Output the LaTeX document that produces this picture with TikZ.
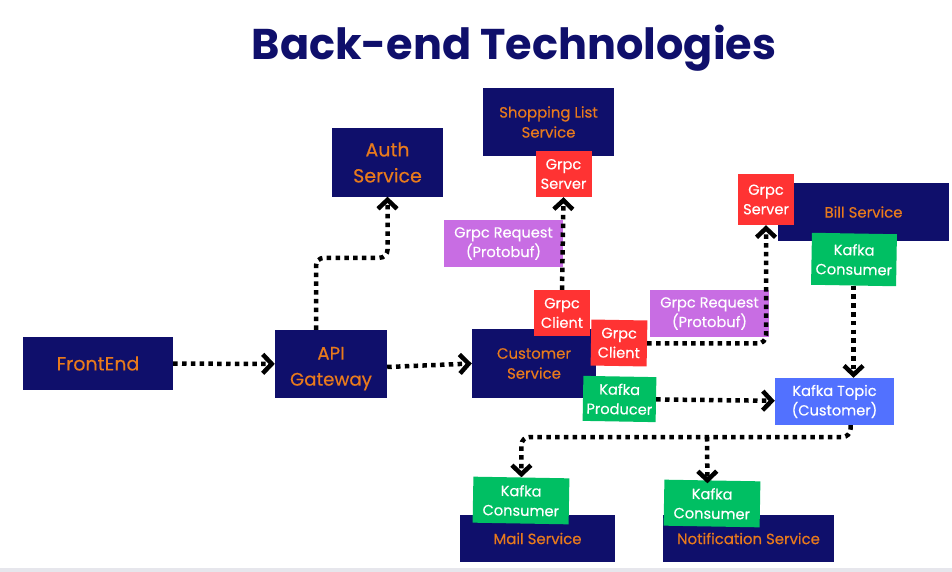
\documentclass[tikz,border=0pt]{standalone}
\usepackage{fontspec}
\setmainfont{Poppins}
\newfontfamily\mediumfont[FakeBold=0.35]{Poppins}
\usetikzlibrary{arrows.meta}
\definecolor{navy}{HTML}{0F0F6B}
\definecolor{svcorange}{HTML}{E87A1C}
\definecolor{grpcred}{HTML}{FF3333}
\definecolor{reqpurple}{HTML}{C86DE3}
\definecolor{kafkagreen}{HTML}{00BF63}
\definecolor{topicblue}{HTML}{5271FF}
\definecolor{stripgray}{HTML}{E6E6EC}

\begin{document}
\begin{tikzpicture}[x=1pt,y=-1pt,>={Straight Barb[length=9pt,width=19pt,line width=4.5pt]},
                    service/.style={fill=navy,text=svcorange,align=center,inner sep=0pt,font=\mediumfont\fontsize{14.9}{20}\selectfont},
                    tag/.style={text=white,align=center,inner sep=0pt,font=\mediumfont\fontsize{14.6}{19.5}\selectfont},
                    grpc/.style={tag,fill=grpcred,minimum width=56pt,minimum height=46pt},
                    request/.style={tag,fill=reqpurple,minimum width=119pt,minimum height=47pt},
                    kafka/.style={tag,fill=kafkagreen,rotate=-1},
                    flow/.style={->,line width=4.5pt,dash pattern=on 4.5pt off 4.3pt,rounded corners=8pt}]

  \useasboundingbox (0,0) rectangle (952,572);
  \fill[stripgray] (0,568) rectangle (952,572);

  \node[text=navy,font=\fontsize{43}{50}\selectfont\bfseries] (title) at (514,48) {Back-end Technologies};

  \node[service,minimum width=150pt,minimum height=53pt,font=\mediumfont\fontsize{19}{24}\selectfont] (front) at (98,363.5) {FrontEnd};
  \node[service,minimum width=112pt,minimum height=68pt,font=\mediumfont\fontsize{18.2}{26}\selectfont] (api) at (331,364) {\rule{0pt}{22pt}API\\Gateway};
  \node[service,minimum width=111pt,minimum height=68pt,font=\mediumfont\fontsize{19}{26}\selectfont] (auth) at (387.5,162.5) {Auth\\Service};
  \node[service,minimum width=131pt,minimum height=68pt] (shop) at (548.5,122) {Shopping List\\Service};
  \node[service,minimum width=124pt,minimum height=69pt] (cust) at (534,363.5) {Customer\\Service};
  \node[service,minimum width=171pt,minimum height=58pt] (bill) at (863.5,212) {Bill Service};
  \node[service,minimum width=155pt,minimum height=47pt] (mail) at (537.5,538.5) {Mail Service};
  \node[service,minimum width=171pt,minimum height=47pt] (notif) at (748.5,538.5) {Notification Service};

  \node[grpc] (srvA) at (563.5,174) {Grpc\\Server};
  \node[grpc,minimum height=51pt] (srvB) at (766,199.5) {Grpc\\Server};
  \node[grpc] (cliA) at (562,313) {Grpc\\Client};
  \node[grpc,rotate=-1] (cliB) at (619,343) {Grpc\\Client};
  \node[request] (reqA) at (503.5,243.5) {Grpc Request\\(Protobuf)};
  \node[request] (reqB) at (709.5,313.5) {Grpc Request\\(Protobuf)};
  \node[kafka,minimum width=73pt,minimum height=45pt] (prod) at (619.5,399) {Kafka\\Producer};
  \node[kafka,minimum width=85pt,minimum height=52pt] (conB) at (854,259.5) {Kafka\\Consumer};
  \node[kafka,minimum width=96pt,minimum height=46pt] (conM) at (521,500.5) {Kafka\\Consumer};
  \node[kafka,minimum width=96pt,minimum height=46pt] (conN) at (712,503.5) {Kafka\\Consumer};
  \node[tag,fill=topicblue,minimum width=119pt,minimum height=47pt] (topic) at (834.5,401.5) {Kafka Topic\\(Customer)};

  \coordinate (split) at (707,437);

  \draw[flow] (front) -- (api);
  \draw[flow] ([yshift=-3pt]api.east) -- (cust.west);
  \draw[flow] ([xshift=-15pt]api.north) -- ++(0,-72) -| (auth.south);
  \draw[flow] (cliA.north) -- (srvA.south);
  \draw[flow] (cliB.east) -| (srvB.south);
  \draw[flow] (prod) -- (topic);
  \draw[flow] (conB.south) -- (conB.south |- topic.north);
  \draw[flow] ([xshift=16pt]topic.south) |- (split) -| (conM.north);
  \draw[flow] (split) -- ([xshift=-5pt,yshift=-3pt]conN.north);

\end{tikzpicture}
\end{document}
